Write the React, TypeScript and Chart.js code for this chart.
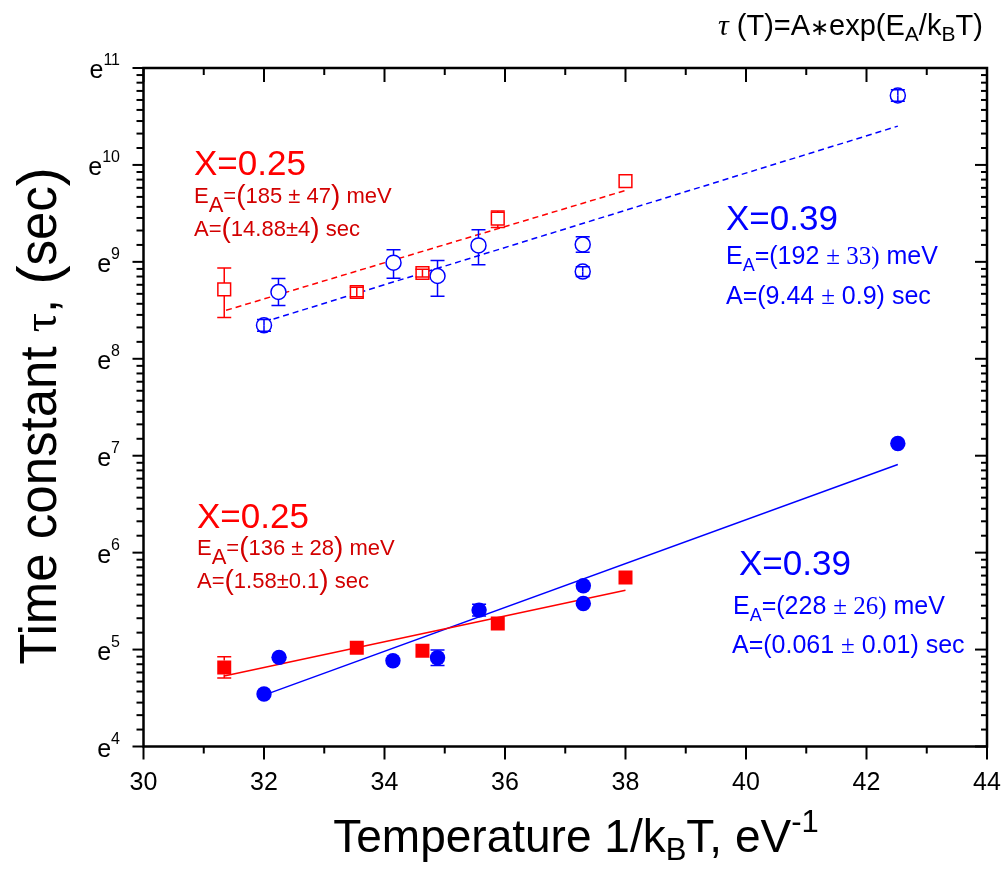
import React, { useEffect, useRef } from 'react';
import { Chart, registerables } from 'chart.js';

Chart.register(...registerables);

// ---------- Data (y values are ln(tau), plotted on an e^n axis) ----------
// X = 0.25, open squares (upper set)
const xRedOpen = [31.34, 33.54, 34.63, 35.88, 38.0];
const lnRedOpen = [8.717, 8.689, 8.885, 9.445, 9.833];
const upRedOpen = [0.22, 0.05, 0.04, 0.08, 0];
const dnRedOpen = [0.29, 0.05, 0.04, 0.09, 0];

// X = 0.39, open circles (upper set)
const xBlueOpen = [32.0, 32.24, 34.15, 34.88, 35.56, 37.29, 37.29, 42.52];
const lnBlueOpen = [8.345, 8.689, 8.992, 8.854, 9.17, 9.18, 8.9, 10.716];
const upBlueOpen = [0.06, 0.14, 0.134, 0.16, 0.16, 0.08, 0.05, 0.06];
const dnBlueOpen = [0.06, 0.14, 0.16, 0.21, 0.2, 0.08, 0.05, 0.06];

// X = 0.25, filled squares (lower set)
const xRedFilled = [31.34, 33.54, 34.63, 35.88, 38.0];
const lnRedFilled = [4.816, 5.02, 4.988, 5.27, 5.744];
const upRedFilled = [0.11, 0, 0, 0, 0];
const dnRedFilled = [0.11, 0, 0, 0, 0];

// X = 0.39, filled circles (lower set)
const xBlueFilled = [32.0, 32.25, 34.14, 34.88, 35.57, 37.3, 37.3, 42.52];
const lnBlueFilled = [4.541, 4.92, 4.885, 4.915, 5.407, 5.658, 5.476, 7.126];
const upBlueFilled = [0, 0, 0, 0.08, 0.06, 0, 0, 0];
const dnBlueFilled = [0, 0, 0, 0.08, 0.06, 0, 0, 0];

// Fit lines (end points)
const fitRedOpenX = [31.37, 38.0];
const fitRedOpenY = [8.5, 9.737];
const fitBlueOpenX = [32.0, 42.52];
const fitBlueOpenY = [8.38, 10.4];
const fitRedFilledX = [31.34, 38.0];
const fitRedFilledY = [4.727, 5.613];
const fitBlueFilledX = [32.0, 42.52];
const fitBlueFilledY = [4.53, 6.91];

// Axis ticks
const xMin = 30;
const xMax = 44;
const xMajorStep = 2;
const yExponents = [4, 5, 6, 7, 8, 9, 10, 11];

const RED = '#ff0000';
const RED_TXT = '#d20000';
const BLUE = '#0000ff';
const SANS = '"Liberation Sans", Arial, sans-serif';
const SERIF = '"Liberation Serif", "Times New Roman", serif';

const pts = (xs: number[], ys: number[]) => xs.map((x, i) => ({ x, y: ys[i] }));

type Seg = { t: string; size: number; fam?: string; dy?: number; style?: string };

function drawRich(ctx: CanvasRenderingContext2D, x: number, y: number, segs: Seg[], color: string, align: 'left' | 'center' = 'left') {
  ctx.save();
  ctx.fillStyle = color;
  ctx.textBaseline = 'alphabetic';
  ctx.textAlign = 'left';
  const fontOf = (s: Seg) => `${s.style || ''} ${s.size}px ${s.fam || SANS}`.trim();
  let total = 0;
  const widths = segs.map((s) => {
    ctx.font = fontOf(s);
    const w = ctx.measureText(s.t).width;
    total += w;
    return w;
  });
  let cx = align === 'center' ? x - total / 2 : x;
  segs.forEach((s, i) => {
    ctx.font = fontOf(s);
    ctx.fillText(s.t, cx, y + (s.dy || 0));
    cx += widths[i];
  });
  ctx.restore();
}

const errorBarPlugin = {
  id: 'errorBars',
  afterDatasetsDraw(chart: any) {
    const ctx: CanvasRenderingContext2D = chart.ctx;
    const yScale = chart.scales.y;
    chart.data.datasets.forEach((ds: any, di: number) => {
      if (!ds.errUp) return;
      const meta = chart.getDatasetMeta(di);
      ctx.save();
      ctx.strokeStyle = ds.borderColor;
      ctx.lineWidth = 1.5;
      const cap = 7;
      const half = ds.markerHalf || 0;
      meta.data.forEach((el: any, i: number) => {
        const v = ds.data[i].y;
        const up = ds.errUp[i];
        const dn = ds.errDown[i];
        const px = el.x;
        const py = el.y;
        if (up > 0) {
          const yt = yScale.getPixelForValue(v + up);
          const start = py - yt > half ? py - half : py;
          ctx.beginPath();
          ctx.moveTo(px, start);
          ctx.lineTo(px, yt);
          ctx.moveTo(px - cap, yt);
          ctx.lineTo(px + cap, yt);
          ctx.stroke();
        }
        if (dn > 0) {
          const yb = yScale.getPixelForValue(v - dn);
          const start = yb - py > half ? py + half : py;
          ctx.beginPath();
          ctx.moveTo(px, start);
          ctx.lineTo(px, yb);
          ctx.moveTo(px - cap, yb);
          ctx.lineTo(px + cap, yb);
          ctx.stroke();
        }
      });
      ctx.restore();
    });
  },
};

const decorPlugin = {
  id: 'decor',
  afterDraw(chart: any) {
    const ctx: CanvasRenderingContext2D = chart.ctx;
    const { left, right, top, bottom } = chart.chartArea;
    const x = chart.scales.x;
    const y = chart.scales.y;
    ctx.save();
    const line = (x1: number, y1: number, x2: number, y2: number) => {
      ctx.beginPath();
      ctx.moveTo(x1, y1);
      ctx.lineTo(x2, y2);
      ctx.stroke();
    };
    ctx.strokeStyle = '#000';
    ctx.lineWidth = 2.5;
    ctx.strokeRect(left, top, right - left, bottom - top);
    ctx.lineWidth = 2;
    // x ticks (major every 2, minor every 1)
    for (let v = xMin; v <= xMax; v += 1) {
      const px = x.getPixelForValue(v);
      const major = (v - xMin) % xMajorStep === 0;
      line(px, bottom, px, bottom + (major ? 13 : 7));
      line(px, top, px, top + (major ? 14 : 7));
    }
    // y ticks
    yExponents.forEach((n) => {
      const py = y.getPixelForValue(n);
      line(left - 11, py, left, py);
      line(right - 12, py, right, py);
      if (n < yExponents[yExponents.length - 1]) {
        const a = Math.exp(n);
        const b = Math.exp(n + 1);
        for (let k = 1; k <= 8; k++) {
          const pv = y.getPixelForValue(Math.log(a + (k * (b - a)) / 9));
          line(left - 7, pv, left, pv);
          line(right - 6, pv, right, pv);
        }
      }
      // label e^n
      ctx.fillStyle = '#000';
      ctx.textBaseline = 'alphabetic';
      ctx.textAlign = 'left';
      ctx.font = `25px ${SANS}`;
      const we = ctx.measureText('e').width;
      ctx.font = `16px ${SANS}`;
      const ws = ctx.measureText(String(n)).width;
      const x0 = 120 - we - ws;
      ctx.font = `25px ${SANS}`;
      ctx.fillText('e', x0, py + 10);
      ctx.font = `16px ${SANS}`;
      ctx.fillText(String(n), x0 + we, py - 3);
    });
    ctx.restore();

    // Axis titles
    drawRich(ctx, 576, 852, [
      { t: 'Temperature 1/k', size: 46 },
      { t: 'B', size: 31, dy: 8 },
      { t: 'T, eV', size: 46 },
      { t: '-1', size: 31, dy: -20 },
    ], '#000', 'center');

    ctx.save();
    ctx.translate(56, 416);
    ctx.rotate(-Math.PI / 2);
    drawRich(ctx, 0, 0, [
      { t: 'Time constant ', size: 51 },
      { t: 'τ', size: 48, fam: SERIF },
      { t: ', ', size: 51 },
      { t: '(', size: 57, dy: 2 },
      { t: 'sec', size: 51 },
      { t: ')', size: 57, dy: 2 },
    ], '#000', 'center');
    ctx.restore();

    // Formula top right
    drawRich(ctx, 718, 35, [
      { t: 'τ', size: 30, fam: SERIF, style: 'italic' },
      { t: ' (T)=A', size: 29 },
      { t: '∗', size: 23 },
      { t: 'exp(E', size: 29 },
      { t: 'A', size: 21, dy: 6 },
      { t: '/k', size: 29 },
      { t: 'B', size: 21, dy: 6 },
      { t: 'T)', size: 29 },
    ], '#000');

    // Red upper annotation
    drawRich(ctx, 194, 175, [{ t: 'X=0.25', size: 35 }], RED);
    drawRich(ctx, 194, 203, [
      { t: 'E', size: 22 }, { t: 'A', size: 22, dy: 9 }, { t: '=', size: 22 },
      { t: '(', size: 28, dy: 1 }, { t: '185 ± 47', size: 22 }, { t: ')', size: 28, dy: 1 }, { t: ' meV', size: 22 },
    ], RED_TXT);
    drawRich(ctx, 194, 236, [
      { t: 'A=', size: 22 }, { t: '(', size: 28, dy: 1 }, { t: '14.88±4', size: 22 }, { t: ')', size: 28, dy: 1 }, { t: ' sec', size: 22 },
    ], RED_TXT);

    // Red lower annotation
    drawRich(ctx, 197, 528, [{ t: 'X=0.25', size: 35 }], RED);
    drawRich(ctx, 197, 555, [
      { t: 'E', size: 22 }, { t: 'A', size: 22, dy: 9 }, { t: '=', size: 22 },
      { t: '(', size: 28, dy: 1 }, { t: '136 ± 28', size: 22 }, { t: ')', size: 28, dy: 1 }, { t: ' meV', size: 22 },
    ], RED_TXT);
    drawRich(ctx, 197, 588, [
      { t: 'A=', size: 22 }, { t: '(', size: 28, dy: 1 }, { t: '1.58±0.1', size: 22 }, { t: ')', size: 28, dy: 1 }, { t: ' sec', size: 22 },
    ], RED_TXT);

    // Blue upper annotation
    drawRich(ctx, 726, 230, [{ t: 'X=0.39', size: 35 }], BLUE);
    drawRich(ctx, 726, 264, [
      { t: 'E', size: 25 }, { t: 'A', size: 18, dy: 7 }, { t: '=(192 ', size: 25 },
      { t: '± 33)', size: 25, fam: SERIF }, { t: ' meV', size: 25 },
    ], BLUE);
    drawRich(ctx, 726, 304, [
      { t: 'A=(9.44 ', size: 25 }, { t: '±', size: 25, fam: SERIF }, { t: ' 0.9) sec', size: 25 },
    ], BLUE);

    // Blue lower annotation
    drawRich(ctx, 739, 575, [{ t: 'X=0.39', size: 35 }], BLUE);
    drawRich(ctx, 733, 614, [
      { t: 'E', size: 25 }, { t: 'A', size: 18, dy: 7 }, { t: '=(228 ', size: 25 },
      { t: '± 26)', size: 25, fam: SERIF }, { t: ' meV', size: 25 },
    ], BLUE);
    drawRich(ctx, 732, 653, [
      { t: 'A=(0.061 ', size: 25 }, { t: '±', size: 25, fam: SERIF }, { t: ' 0.01) sec', size: 25 },
    ], BLUE);
  },
};

export default function App() {
  const canvasRef = useRef<HTMLCanvasElement | null>(null);

  useEffect(() => {
    const canvas = canvasRef.current;
    if (!canvas) return;
    const fitDs = (xs: number[], ys: number[], color: string, dashed: boolean) => ({
      data: pts(xs, ys),
      showLine: true,
      borderColor: color,
      borderWidth: 1.5,
      borderDash: dashed ? [6, 4] : [],
      pointRadius: 0,
      fill: false,
      order: 10,
    });
    const chart = new Chart(canvas, {
      type: 'scatter',
      data: {
        datasets: [
          fitDs(fitRedOpenX, fitRedOpenY, RED, true),
          fitDs(fitBlueOpenX, fitBlueOpenY, BLUE, true),
          fitDs(fitRedFilledX, fitRedFilledY, RED, false),
          fitDs(fitBlueFilledX, fitBlueFilledY, BLUE, false),
          {
            data: pts(xRedOpen, lnRedOpen),
            pointStyle: 'rect',
            pointRadius: 9,
            borderWidth: 1.5,
            borderColor: RED,
            backgroundColor: '#ffffff',
            errUp: upRedOpen,
            errDown: dnRedOpen,
            markerHalf: 6.4,
            order: 1,
          } as any,
          {
            data: pts(xBlueOpen, lnBlueOpen),
            pointStyle: 'circle',
            pointRadius: 7.5,
            borderWidth: 1.5,
            borderColor: BLUE,
            backgroundColor: '#ffffff',
            errUp: upBlueOpen,
            errDown: dnBlueOpen,
            markerHalf: 7.5,
            order: 1,
          } as any,
          {
            data: pts(xRedFilled, lnRedFilled),
            pointStyle: 'rect',
            pointRadius: 9.9,
            borderWidth: 0,
            borderColor: RED,
            backgroundColor: RED,
            errUp: upRedFilled,
            errDown: dnRedFilled,
            markerHalf: 7,
            order: 1,
          } as any,
          {
            data: pts(xBlueFilled, lnBlueFilled),
            pointStyle: 'circle',
            pointRadius: 7.7,
            borderWidth: 0,
            borderColor: BLUE,
            backgroundColor: BLUE,
            errUp: upBlueFilled,
            errDown: dnBlueFilled,
            markerHalf: 7.7,
            order: 1,
          } as any,
        ],
      },
      options: {
        animation: false,
        responsive: false,
        devicePixelRatio: 1,
        layout: { padding: { left: 0, top: 68, right: 16, bottom: 0 } },
        plugins: { legend: { display: false }, tooltip: { enabled: false } },
        scales: {
          x: {
            type: 'linear',
            min: xMin,
            max: xMax,
            afterFit: (s: any) => {
              s.height = 123.5;
              s.paddingLeft = 0;
              s.paddingRight = 0;
            },
            grid: { display: false, drawTicks: false, tickLength: 0 },
            border: { display: false },
            ticks: {
              stepSize: xMajorStep,
              padding: 22,
              color: '#000',
              font: { family: SANS, size: 25 },
              maxRotation: 0,
              autoSkip: false,
            },
          },
          y: {
            type: 'linear',
            min: yExponents[0],
            max: yExponents[yExponents.length - 1],
            afterFit: (s: any) => {
              s.width = 143.5;
              s.paddingTop = 0;
              s.paddingBottom = 0;
            },
            grid: { display: false, drawTicks: false },
            border: { display: false },
            ticks: { display: false, stepSize: 1 },
          },
        },
      } as any,
      plugins: [errorBarPlugin, decorPlugin],
    });
    return () => chart.destroy();
  }, []);

  return (
    <div style={{ position: 'absolute', left: 0, top: 0, width: 1003, height: 870, background: '#fff' }}>
      <canvas ref={canvasRef} width={1003} height={870} style={{ display: 'block' }} />
    </div>
  );
}
